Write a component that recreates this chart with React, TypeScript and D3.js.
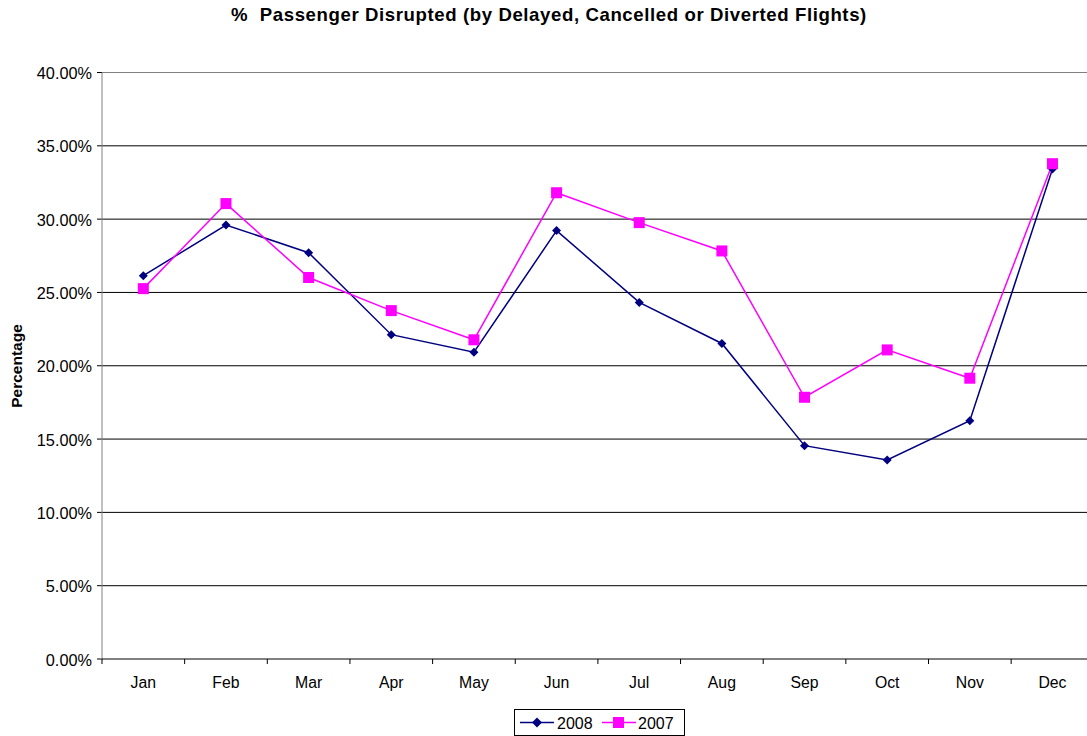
import React from "react";
import * as d3 from "d3";

const months = ["Jan", "Feb", "Mar", "Apr", "May", "Jun", "Jul", "Aug", "Sep", "Oct", "Nov", "Dec"];
const values2008 = [26.14, 29.6, 27.71, 22.12, 20.92, 29.22, 24.32, 21.52, 14.55, 13.57, 16.25, 33.42];
const values2007 = [25.26, 31.06, 26.02, 23.76, 21.77, 31.8, 29.76, 27.83, 17.85, 21.08, 19.15, 33.78];
const yTicks = [0, 5, 10, 15, 20, 25, 30, 35, 40];

const W = 1087;
const H = 736;
const left = 102;
const top = 72.5;
const bottom = 659;
const bandW = 82.65;

export default function App() {
  const x = d3
    .scaleBand<string>()
    .domain(months)
    .range([left, left + bandW * months.length]);
  const y = d3.scaleLinear().domain([0, 40]).range([bottom, top]);
  const line = d3
    .line<number>()
    .x((_, i) => (x(months[i]) as number) + x.bandwidth() / 2)
    .y((d) => y(d));
  const font = "Arial, 'Liberation Sans', sans-serif";
  const cx = (i: number) => (x(months[i]) as number) + x.bandwidth() / 2;

  return (
    <svg
      width={W}
      height={H}
      style={{ position: "absolute", left: 0, top: 0, background: "#fff" }}
      fontFamily={font}
    >
      <rect width={W} height={H} fill="#fff" />
      <text
        x={549}
        y={20.5}
        textAnchor="middle"
        fontSize={18.6}
        letterSpacing={0.6}
        fontWeight="bold"
        fill="#000"
        style={{ whiteSpace: "pre" }}
      >
        {"%  Passenger Disrupted (by Delayed, Cancelled or Diverted Flights)"}
      </text>
      {yTicks.map((t) => (
        <g key={t}>
          {t > 0 && (
            <line
              x1={left}
              x2={W}
              y1={y(t)}
              y2={y(t)}
              stroke={t === 40 ? "#808080" : "#000"}
              strokeWidth={1}
            />
          )}
          <line x1={left - 5} x2={left} y1={y(t)} y2={y(t)} stroke="#000" />
          <text x={92} y={y(t) + 6.5} textAnchor="end" fontSize={16.3} fill="#000">
            {t.toFixed(2)}%
          </text>
        </g>
      ))}
      <line x1={left} x2={left} y1={top} y2={bottom} stroke="#808080" strokeWidth={1} />
      <line x1={left} x2={W} y1={bottom} y2={bottom} stroke="#000" strokeWidth={1} />
      {months.map((m, i) => (
        <g key={m}>
          <line
            x1={x(m) as number}
            x2={x(m) as number}
            y1={bottom}
            y2={bottom + 5}
            stroke="#000"
          />
          <text x={cx(i)} y={bottom + 29} textAnchor="middle" fontSize={15.8} fill="#000">
            {m}
          </text>
        </g>
      ))}
      <text
        transform={`translate(21.5,366) rotate(-90)`}
        textAnchor="middle"
        fontSize={15.5}
        fontWeight="bold"
        fill="#000"
      >
        Percentage
      </text>
      <path d={line(values2008) || ""} fill="none" stroke="#000080" strokeWidth={1.5} />
      <path d={line(values2007) || ""} fill="none" stroke="#ff00ff" strokeWidth={1.5} />
      {values2008.map((v, i) => (
        <path
          key={"d" + i}
          d={`M${cx(i)},${y(v) - 4.5}L${cx(i) + 4.5},${y(v)}L${cx(i)},${y(v) + 4.5}L${cx(i) - 4.5},${y(v)}Z`}
          fill="#000080"
        />
      ))}
      {values2007.map((v, i) => (
        <rect key={"s" + i} x={cx(i) - 5.5} y={y(v) - 5.5} width={11} height={11} fill="#ff00ff" />
      ))}
      <g>
        <rect x={514.5} y={709.5} width={170} height={26} fill="#fff" stroke="#000" strokeWidth={1} />
        <line x1={520} x2={554} y1={722.5} y2={722.5} stroke="#000080" strokeWidth={1.5} />
        <path d="M537,717.5L542,722.5L537,727.5L532,722.5Z" fill="#000080" />
        <text x={557} y={728.5} fontSize={16} fill="#000">2008</text>
        <line x1={602} x2={636} y1={722.5} y2={722.5} stroke="#ff00ff" strokeWidth={1.5} />
        <rect x={613} y={717} width={11} height={11} fill="#ff00ff" />
        <text x={638} y={728.5} fontSize={16} fill="#000">2007</text>
      </g>
    </svg>
  );
}
